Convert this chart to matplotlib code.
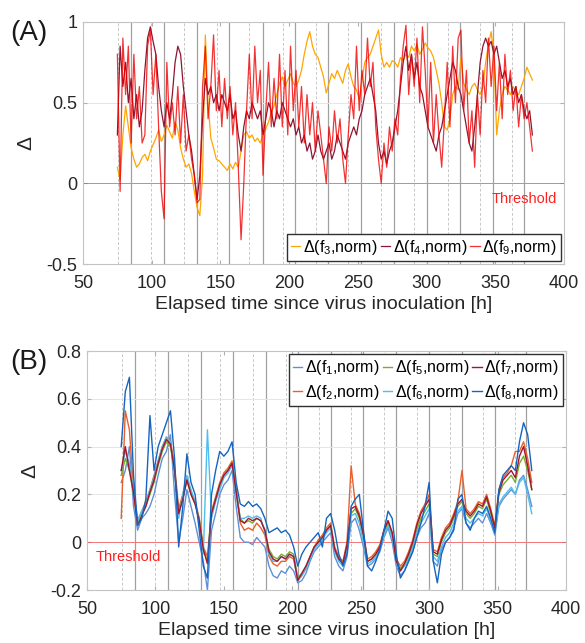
import numpy as np
import matplotlib
matplotlib.use("Agg")
import matplotlib.pyplot as plt

# --- FUENTES ---
plt.rcParams['font.family'] = ['Liberation Sans', 'DejaVu Sans']
plt.rcParams['mathtext.fontset'] = 'custom'
plt.rcParams['mathtext.rm'] = 'Liberation Sans'
plt.rcParams['mathtext.it'] = 'Liberation Sans:italic'

# --- DATOS PANEL (A): un valor cada 2 h, de 75 h a 377 h ---
delta_f3 = [0.10, 0.02, 0.30, 0.48, 0.35, 0.22, 0.15, 0.10, 0.12, 0.16, 0.18, 0.14, 0.20, 0.24, 0.28, 0.33,
            0.26, 0.30, 0.36, 0.32, 0.28, 0.38, 0.33, 0.22, 0.15, 0.10, 0.12, 0.06, -0.05, -0.15, -0.20, 0.05,
            0.92, 0.50, 0.28, 0.22, 0.15, 0.14, 0.12, 0.10, 0.08, 0.12, 0.09, 0.13, 0.10, 0.20, 0.30, 0.32,
            0.28, 0.30, 0.26, 0.28, 0.25, 0.30, 0.34, 0.38, 0.44, 0.48, 0.55, 0.62, 0.66, 0.60, 0.64, 0.68,
            0.62, 0.60, 0.64, 0.70, 0.80, 0.88, 0.94, 0.85, 0.80, 0.78, 0.72, 0.66, 0.56, 0.62, 0.68, 0.65,
            0.70, 0.66, 0.62, 0.70, 0.74, 0.66, 0.60, 0.58, 0.52, 0.64, 0.75, 0.78, 0.80, 0.85, 0.90, 0.95,
            0.80, 0.72, 0.75, 0.72, 0.76, 0.75, 0.72, 0.78, 0.76, 0.80, 0.78, 0.85, 0.82, 0.86, 0.80, 0.83,
            0.87, 0.84, 0.82, 0.78, 0.70, 0.62, 0.50, 0.35, 0.33, 0.40, 0.55, 0.60, 0.58, 0.78, 0.62, 0.58,
            0.55, 0.60, 0.62, 0.58, 0.55, 0.60, 0.75, 0.86, 0.94, 0.80, 0.30, 0.45, 0.55, 0.60, 0.58, 0.55,
            0.60, 0.57, 0.55, 0.60, 0.65, 0.72, 0.68, 0.64]
delta_f4 = [0.30, 0.85, 0.60, 0.75, 0.50, 0.65, 0.40, 0.55, 0.35, 0.45, 0.70, 0.90, 0.97, 0.88, 0.80, 0.60,
            0.45, 0.35, 0.50, 0.40, 0.55, 0.75, 0.85, 0.80, 0.60, 0.45, 0.30, 0.20, 0.05, -0.10, 0.05, 0.40,
            0.65, 0.55, 0.60, 0.50, 0.55, 0.45, 0.55, 0.50, 0.45, 0.55, 0.40, 0.45, 0.30, 0.20, 0.35, 0.45,
            0.40, 0.50, 0.45, 0.40, 0.45, 0.30, 0.40, 0.50, 0.45, 0.35, 0.45, 0.40, 0.50, 0.45, 0.40, 0.35,
            0.40, 0.30, 0.35, 0.25, 0.30, 0.20, 0.25, 0.15, 0.20, 0.30, 0.20, 0.15, 0.20, 0.25, 0.15, 0.20,
            0.30, 0.25, 0.20, 0.15, 0.25, 0.30, 0.35, 0.30, 0.40, 0.45, 0.55, 0.60, 0.65, 0.55, 0.45, 0.25,
            0.15, 0.20, 0.12, 0.20, 0.25, 0.35, 0.45, 0.60, 0.75, 0.85, 0.70, 0.80, 0.65, 0.75, 0.60, 0.55,
            0.45, 0.35, 0.30, 0.25, 0.20, 0.30, 0.35, 0.45, 0.55, 0.65, 0.75, 0.70, 0.60, 0.55, 0.45, 0.35,
            0.25, 0.20, 0.35, 0.55, 0.75, 0.85, 0.90, 0.85, 0.88, 0.80, 0.85, 0.75, 0.65, 0.70, 0.60, 0.65,
            0.55, 0.60, 0.50, 0.55, 0.45, 0.40, 0.45, 0.30]
delta_f9 = [0.80, -0.05, 0.90, 0.55, 0.85, 0.25, 0.80, 0.40, 0.60, 0.25, 0.30, 0.85, 0.95, 0.55, 0.80, 0.35,
            -0.05, -0.22, 0.75, 0.35, 0.50, 0.30, 0.60, 0.25, 0.55, 0.20, 0.30, 0.15, 0.05, -0.12, -0.10, 0.60,
            0.85, 0.40, 0.60, 0.92, 0.45, 0.70, 0.35, 0.65, 0.40, 0.60, 0.30, 0.50, 0.10, -0.35, 0.00, 0.45,
            0.80, 0.40, 0.85, 0.50, 0.70, 0.05, 0.45, 0.75, 0.35, 0.65, 0.40, 0.80, 0.35, 0.70, 0.30, 0.85,
            0.45, 0.70, 0.35, 0.60, 0.25, 0.55, 0.30, 0.50, 0.20, 0.45, 0.30, 0.15, 0.00, 0.35, 0.20, 0.45,
            0.25, 0.40, 0.15, 0.00, 0.30, 0.55, 0.40, 0.85, 0.45, 0.70, 0.55, 0.90, 0.60, 0.75, 0.35, 0.15,
            0.00, 0.25, 0.10, 0.35, 0.20, 0.40, 0.30, 0.65, 0.85, 0.98, 0.55, 0.80, 0.60, 0.90, 0.50, 0.97,
            0.70, 0.35, 0.75, 0.25, 0.55, 0.30, 0.10, 0.40, 0.75, 0.35, 0.85, 0.50, 0.90, 0.95, 0.45, 0.70,
            0.25, 0.45, 0.10, 0.55, 0.30, 0.70, 0.50, 0.90, 0.60, 0.85, 0.45, 0.75, 0.40, 0.80, 0.55, 0.70,
            0.45, 0.60, 0.35, 0.55, 0.40, 0.50, 0.35, 0.20]

# --- DATOS PANEL (B): un valor cada 3 h, de 75 h a 375 h ---
delta_f1 = [0.25, 0.30, 0.40, 0.15, 0.05, 0.10, 0.12, 0.15, 0.20, 0.28, 0.35, 0.38, 0.45, 0.20, 0.00, 0.10,
            0.22, 0.15, 0.08, 0.00, -0.08, -0.20, 0.05, 0.12, 0.20, 0.24, 0.26, 0.30, 0.15, 0.02, 0.00, 0.00,
            -0.01, 0.02, 0.00, -0.02, -0.10, -0.14, -0.15, -0.12, -0.13, -0.10, -0.12, -0.17, -0.16, -0.13,
            -0.08, -0.04, -0.02, 0.00, 0.02, 0.04, -0.06, -0.10, -0.12, -0.06, 0.08, 0.10, 0.05, -0.02, -0.10,
            -0.09, -0.07, -0.04, 0.02, 0.06, 0.00, -0.10, -0.14, -0.12, -0.08, -0.04, 0.02, 0.06, 0.08, 0.12,
            -0.08, -0.10, -0.03, 0.00, 0.02, 0.06, 0.12, 0.14, 0.08, 0.06, 0.08, 0.10, 0.08, 0.12, 0.08, 0.03,
            0.15, 0.18, 0.20, 0.22, 0.20, 0.26, 0.28, 0.22, 0.15]
delta_f2 = [0.10, 0.55, 0.47, 0.22, 0.09, 0.13, 0.17, 0.22, 0.28, 0.34, 0.40, 0.44, 0.42, 0.32, 0.14, 0.20,
            0.27, 0.21, 0.17, 0.10, -0.02, -0.06, 0.13, 0.19, 0.25, 0.29, 0.31, 0.34, 0.22, 0.08, 0.05, 0.06,
            0.05, 0.08, 0.06, 0.03, -0.06, -0.09, -0.10, -0.08, -0.08, -0.06, -0.07, -0.16, -0.14, -0.11,
            -0.06, -0.02, 0.01, 0.03, 0.06, 0.08, -0.02, -0.06, -0.08, 0.00, 0.32, 0.16, 0.12, 0.04, -0.07,
            -0.06, -0.04, -0.01, 0.05, 0.09, 0.04, -0.07, -0.10, -0.08, -0.04, 0.01, 0.08, 0.13, 0.16, 0.20,
            -0.03, -0.04, 0.02, 0.06, 0.08, 0.12, 0.17, 0.30, 0.14, 0.12, 0.14, 0.17, 0.16, 0.20, 0.14, 0.07,
            0.22, 0.27, 0.29, 0.32, 0.38, 0.38, 0.42, 0.35, 0.25]
delta_f5 = [0.28, 0.35, 0.30, 0.20, 0.08, 0.12, 0.15, 0.20, 0.25, 0.32, 0.38, 0.42, 0.40, 0.30, 0.12, 0.18,
            0.26, 0.20, 0.16, 0.10, -0.03, -0.08, 0.12, 0.18, 0.24, 0.28, 0.30, 0.33, 0.22, 0.10, 0.08, 0.09,
            0.08, 0.10, 0.09, 0.05, -0.03, -0.06, -0.07, -0.05, -0.06, -0.04, -0.05, -0.15, -0.13, -0.10,
            -0.06, -0.02, 0.00, 0.02, 0.05, 0.07, -0.03, -0.07, -0.09, -0.02, 0.12, 0.14, 0.10, 0.02, -0.08,
            -0.07, -0.05, -0.02, 0.04, 0.08, 0.03, -0.08, -0.11, -0.09, -0.06, -0.01, 0.05, 0.10, 0.13, 0.16,
            -0.05, -0.06, 0.00, 0.04, 0.06, 0.10, 0.15, 0.17, 0.12, 0.10, 0.12, 0.15, 0.14, 0.18, 0.12, 0.06,
            0.20, 0.24, 0.26, 0.28, 0.25, 0.33, 0.36, 0.30, 0.22]
delta_f6 = [0.30, 0.38, 0.33, 0.22, 0.09, 0.13, 0.16, 0.22, 0.27, 0.34, 0.40, 0.44, 0.42, 0.28, 0.10, 0.20,
            0.28, 0.22, 0.17, 0.08, -0.05, 0.47, 0.10, 0.17, 0.22, 0.27, 0.29, 0.32, 0.20, 0.10, 0.10, 0.11,
            0.10, 0.11, 0.10, 0.04, -0.05, -0.08, -0.08, -0.06, -0.07, -0.05, -0.06, -0.16, -0.14, -0.11,
            -0.07, -0.03, -0.01, 0.01, 0.04, 0.06, -0.04, -0.08, -0.10, -0.03, 0.11, 0.12, 0.08, 0.00, -0.09,
            -0.08, -0.06, -0.03, 0.03, 0.07, 0.02, -0.09, -0.12, -0.10, -0.07, -0.02, 0.04, 0.08, 0.11, 0.14,
            -0.06, -0.08, -0.02, 0.02, 0.04, 0.08, 0.13, 0.15, 0.10, 0.08, 0.10, 0.12, 0.11, 0.14, 0.09, 0.04,
            0.16, 0.19, 0.21, 0.23, 0.20, 0.25, 0.27, 0.20, 0.12]
delta_f7 = [0.30, 0.40, 0.30, 0.21, 0.07, 0.11, 0.15, 0.21, 0.26, 0.33, 0.39, 0.43, 0.41, 0.30, 0.12, 0.18,
            0.26, 0.20, 0.16, 0.09, -0.03, -0.09, 0.12, 0.18, 0.24, 0.28, 0.30, 0.33, 0.21, 0.09, 0.08, 0.10,
            0.09, 0.10, 0.09, 0.05, -0.04, -0.07, -0.08, -0.06, -0.07, -0.05, -0.06, -0.16, -0.13, -0.10,
            -0.06, -0.02, 0.00, 0.02, 0.05, 0.07, -0.03, -0.07, -0.09, -0.01, 0.14, 0.15, 0.11, 0.03, -0.08,
            -0.07, -0.05, -0.02, 0.05, 0.09, 0.04, -0.08, -0.12, -0.09, -0.05, 0.00, 0.07, 0.12, 0.15, 0.18,
            -0.04, -0.05, 0.01, 0.05, 0.07, 0.11, 0.16, 0.18, 0.13, 0.11, 0.13, 0.16, 0.15, 0.19, 0.13, 0.06,
            0.21, 0.26, 0.28, 0.30, 0.27, 0.36, 0.40, 0.32, 0.22]
delta_f8 = [0.40, 0.63, 0.69, 0.28, 0.07, 0.10, 0.18, 0.53, 0.30, 0.40, 0.45, 0.50, 0.55, 0.35, -0.02, 0.15,
            0.37, 0.25, 0.20, 0.05, -0.10, -0.15, 0.20, 0.30, 0.38, 0.36, 0.38, 0.42, 0.25, 0.16, 0.15, 0.17,
            0.15, 0.16, 0.14, 0.10, 0.04, 0.05, 0.06, 0.04, 0.05, 0.03, -0.02, -0.10, -0.05, -0.02, 0.00,
            0.02, 0.04, -0.02, 0.10, 0.12, 0.05, -0.05, -0.10, -0.05, 0.15, 0.18, 0.20, 0.05, -0.10, -0.12,
            -0.08, -0.03, 0.05, 0.13, 0.10, -0.05, -0.15, -0.12, -0.08, -0.04, 0.02, 0.08, 0.15, 0.25, -0.08,
            -0.17, -0.05, 0.00, 0.02, 0.05, 0.18, 0.20, 0.08, 0.05, 0.10, 0.13, 0.12, 0.15, 0.10, 0.04, 0.22,
            0.28, 0.30, 0.32, 0.30, 0.42, 0.50, 0.45, 0.30]

# --- LÍNEAS VERTICALES (horas de cambio de luz) ---
lineas_discontinuas = [75.5, 99.5, 123.5, 147.5, 171, 195.5, 219.5, 243, 267, 291, 315.5, 339, 362.5]
lineas_continuas = [85, 109, 133, 156.5, 181, 204.5, 228, 252, 276, 300, 324, 348, 371]

marcas_x = [50, 100, 150, 200, 250, 300, 350, 400]
texto_x = "Elapsed time since virus inoculation [h]"

t_a = np.linspace(75, 377, len(delta_f3))
t_b = np.linspace(75, 375, len(delta_f1))


def preparar_eje(ax, ylim, yticks, yticklabels):
    # Líneas de fondo: discontinuas claras y continuas grises
    for x in lineas_discontinuas:
        ax.axvline(x, color='#C8C8C8', ls=(0, (3, 2)), lw=0.7, zorder=0)
    for x in lineas_continuas:
        ax.axvline(x, color='#A0A0A0', lw=0.9, zorder=0)
    ax.axhline(0, color='#FF3030', lw=0.7, alpha=0.6, zorder=1)
    ax.set_xlim(50, 400)
    ax.set_ylim(*ylim)
    ax.set_xticks(marcas_x)
    ax.set_yticks(yticks)
    ax.set_yticklabels(yticklabels)
    ax.yaxis.grid(True, color='#E6E6E6', lw=0.7)
    ax.set_axisbelow(True)
    ax.tick_params(direction='in', length=3, color='#B0B0B0', labelsize=13,
                   labelcolor='#262626', top=True, right=True)
    ax.tick_params(axis='x', pad=8)
    ax.tick_params(axis='y', pad=4)
    for lado in ax.spines.values():
        lado.set_color('#C4C4C4')
        lado.set_linewidth(0.8)
    ax.set_xlabel(texto_x, fontsize=14, color='#262626', labelpad=3)
    ax.set_ylabel("Δ", fontsize=15, color='#262626', labelpad=8)


fig = plt.figure(figsize=(5.85, 6.43), dpi=100)

# --- PANEL (A) ---
ax1 = fig.add_axes([0.1419, 0.5894, 0.8222, 0.3764])
preparar_eje(ax1, (-0.5, 1), [-0.5, 0, 0.5, 1], ["-0.5", "0", "0.5", "1"])
ax1.plot(t_a, delta_f3, color='#FFA500', lw=0.9, label='Δ(f$_3$,norm)')
ax1.plot(t_a, delta_f4, color='#8E1533', lw=0.9, label='Δ(f$_4$,norm)')
ax1.plot(t_a, delta_f9, color='#F00000', lw=0.9, alpha=0.8, label='Δ(f$_9$,norm)')
ax1.text(0.985, 0.27, "Threshold", transform=ax1.transAxes, color='#FF2020',
         fontsize=10.5, ha='right', va='center')
ax1.legend(loc='lower right', ncol=3, fontsize=11.5, handlelength=0.6, handletextpad=0.15,
           columnspacing=0.2, borderpad=0.25, borderaxespad=0.2, fancybox=False,
           framealpha=1, edgecolor='#303030')
fig.text(0.018, 0.948, "(A)", fontsize=20, va='center', color='#1A1A1A')

# --- PANEL (B) ---
ax2 = fig.add_axes([0.1487, 0.0824, 0.8188, 0.3717])
preparar_eje(ax2, (-0.2, 0.8), [-0.2, 0, 0.2, 0.4, 0.6, 0.8],
             ["-0.2", "0", "0.2", "0.4", "0.6", "0.8"])
series_b = [(delta_f1, '#5E90D8', 'Δ(f$_1$,norm)'),
            (delta_f2, '#E8602C', 'Δ(f$_2$,norm)'),
            (delta_f5, '#77AC30', 'Δ(f$_5$,norm)'),
            (delta_f6, '#4DBEEE', 'Δ(f$_6$,norm)'),
            (delta_f7, '#A2142F', 'Δ(f$_7$,norm)'),
            (delta_f8, '#1565C0', 'Δ(f$_8$,norm)')]
for valores, color, etiqueta in series_b:
    ax2.plot(t_b, valores, color=color, lw=1.0, label=etiqueta)
ax2.text(0.019, 0.138, "Threshold", transform=ax2.transAxes, color='#FF2020',
         fontsize=10.5, va='center')
ax2.legend(loc='upper right', ncol=3, fontsize=11.5, handlelength=0.6, handletextpad=0.15,
           columnspacing=0.2, borderpad=0.25, borderaxespad=0.2, fancybox=False,
           framealpha=1, edgecolor='#303030', labelspacing=0.35)
fig.text(0.018, 0.437, "(B)", fontsize=20, va='center', color='#1A1A1A')

fig.savefig("out.png", dpi=100)
